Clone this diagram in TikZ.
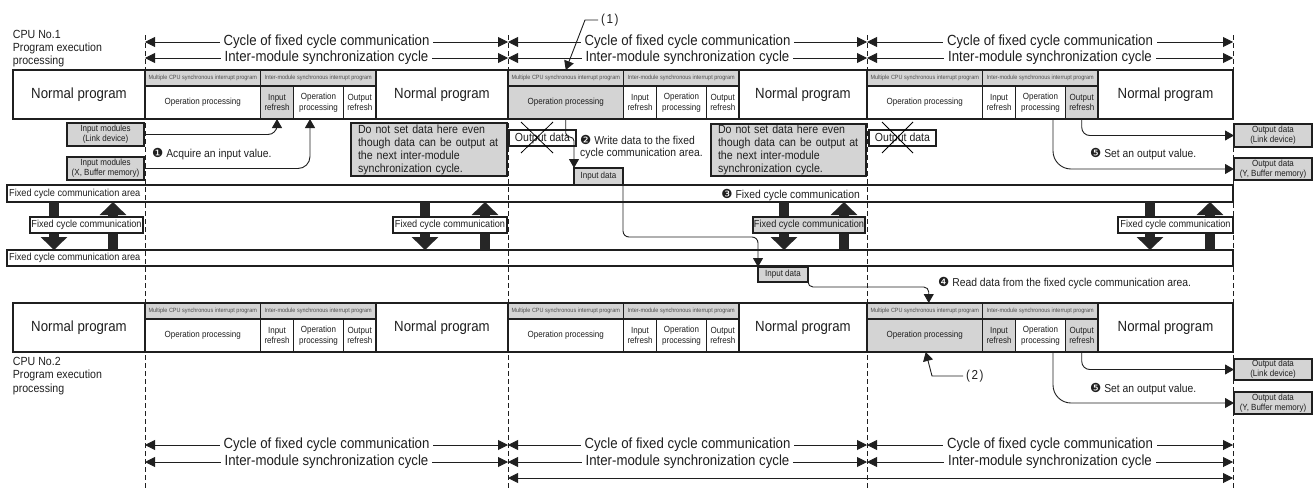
\documentclass[tikz,border=0pt]{standalone}
\usepackage{fontspec}
\setmainfont[FakeStretch=0.9]{Liberation Sans}
\newfontfamily\symf{DejaVu Sans}
\usetikzlibrary{arrows.meta}
\definecolor{hdr}{gray}{0.83}
\definecolor{ink}{gray}{0.12}
\newcommand\myBig{\fontsize{14.7}{16}\selectfont}
\newcommand\myAnn{\fontsize{11.5}{13}\selectfont}
\newcommand\myLab{\fontsize{13}{14}\selectfont}
\newcommand\myCpu{\fontsize{11.8}{13.3}\selectfont}
\newcommand\myNote{\fontsize{11.8}{13}\selectfont}
\newcommand\myOut{\fontsize{11.7}{13}\selectfont}
\newcommand\myMid{\fontsize{8.9}{10.7}\selectfont}
\newcommand\mySmall{\fontsize{8.9}{10}\selectfont}
\newcommand\myHdr{\fontsize{6.1}{7}\selectfont}
\newcommand\myArea{\fontsize{10.2}{12}\selectfont}
\newcommand\cn[1]{{\symf\fontsize{12.5}{12.5}\selectfont #1}}
\newcommand\cellbox[7]{\node[cell,#6,minimum width={(#4)-(#2)},minimum height={(#5)-(#3)}] (#1) at ({((#2)+(#4))/2},{((#3)+(#5))/2}) {#7};}
\newcommand\cyclerow[8]{%
  \cellbox{#1ha}{#2}{#4}{#2+115.5}{#4+16}{fill=hdr,font=\myHdr,text=black!70}{Multiple CPU synchronous interrupt program}
  \cellbox{#1hb}{#2+115.5}{#4}{#2+231}{#4+16}{fill=hdr,font=\myHdr,text=black!70}{Inter-module synchronous interrupt program}
  \cellbox{#1op}{#2}{#4+16}{#2+115.5}{#4+49}{fill=#5,font=\myMid}{Operation processing}
  \cellbox{#1in}{#2+115.5}{#4+16}{#2+148.5}{#4+49}{fill=#6,font=\myMid}{Input\\refresh}
  \cellbox{#1pr}{#2+148.5}{#4+16}{#2+198.5}{#4+49}{fill=#7,font=\myMid}{Operation\\processing}
  \cellbox{#1out}{#2+198.5}{#4+16}{#2+231}{#4+49}{fill=#8,font=\myMid}{Output\\refresh}
  \cellbox{#1nm}{#2+231}{#4}{#3}{#4+49}{fill=white,font=\myBig}{Normal program}
}
\begin{document}
\begin{tikzpicture}[x=1pt,y=-1pt,
  every node/.append style={text=ink},
  cell/.style={draw=ink,line width=1.1pt,inner sep=0pt,outer sep=0pt,align=center},
  dashline/.style={draw=ink,line width=0.9pt,dash pattern=on 5pt off 3pt},
  cyc/.style={draw=ink,line width=0.9pt,{Triangle[length=10pt,width=10pt]}-{Triangle[length=10pt,width=10pt]}},
  conn/.style={draw=ink,line width=0.9pt,-{Triangle[length=9pt,width=10pt]}},
  blk/.style={draw=black!85,line width=10pt,-{Triangle[length=13pt,width=26pt]}},
  cyclab/.style={fill=white,inner xsep=4pt,inner ysep=1pt,font=\myBig},
  txt/.style={inner sep=0pt}]
\useasboundingbox (0,0) rectangle (1314,488);
% dashed cycle boundaries
\coordinate (v0) at (145,35); \coordinate (w0) at (145,488);
\coordinate (v1) at (508,35); \coordinate (w1) at (508,488);
\coordinate (v2) at (867,35); \coordinate (w2) at (867,488);
\coordinate (v3) at (1233,35); \coordinate (w3) at (1233,488);
\draw[dashline] (v0) -- (w0);
\draw[dashline] (v1) -- (w1);
\draw[dashline] (v2) -- (w2);
\draw[dashline] (v3) -- (w3);
% y levels
\coordinate (yc1) at (0,42); \coordinate (yc2) at (0,58);
\coordinate (yc3) at (0,445); \coordinate (yc4) at (0,462); \coordinate (yc5) at (0,478);
% top cycle arrows
\draw[cyc] (v0|-yc1) -- node[cyclab] (t11) {Cycle of fixed cycle communication} (v1|-yc1);
\draw[cyc] (v1|-yc1) -- node[cyclab] (t12) {Cycle of fixed cycle communication} (v2|-yc1);
\draw[cyc] (v2|-yc1) -- node[cyclab] (t13) {Cycle of fixed cycle communication} (v3|-yc1);
\draw[cyc] (v0|-yc2) -- node[cyclab] (t21) {Inter-module synchronization cycle} (v1|-yc2);
\draw[cyc] (v1|-yc2) -- node[cyclab] (t22) {Inter-module synchronization cycle} (v2|-yc2);
\draw[cyc] (v2|-yc2) -- node[cyclab] (t23) {Inter-module synchronization cycle} (v3|-yc2);
% bottom cycle arrows
\draw[cyc] (v0|-yc3) -- node[cyclab] (b11) {Cycle of fixed cycle communication} (v1|-yc3);
\draw[cyc] (v1|-yc3) -- node[cyclab] (b12) {Cycle of fixed cycle communication} (v2|-yc3);
\draw[cyc] (v2|-yc3) -- node[cyclab] (b13) {Cycle of fixed cycle communication} (v3|-yc3);
\draw[cyc] (v0|-yc4) -- node[cyclab] (b21) {Inter-module synchronization cycle} (v1|-yc4);
\draw[cyc] (v1|-yc4) -- node[cyclab] (b22) {Inter-module synchronization cycle} (v2|-yc4);
\draw[cyc] (v2|-yc4) -- node[cyclab] (b23) {Inter-module synchronization cycle} (v3|-yc4);
\draw[cyc] (v1|-yc5) -- (v3|-yc5);
% CPU labels
\node[txt,anchor=base west,font=\myCpu] (cpu1a) at (12.7,38) {CPU No.1};
\node[txt,anchor=base west,font=\myCpu] (cpu1b) at (12.7,51.3) {Program execution};
\node[txt,anchor=base west,font=\myCpu] (cpu1c) at (12.7,64.6) {processing};
\node[txt,anchor=base west,font=\myCpu] (cpu2a) at (12.7,365.5) {CPU No.2};
\node[txt,anchor=base west,font=\myCpu] (cpu2b) at (12.7,378.8) {Program execution};
\node[txt,anchor=base west,font=\myCpu] (cpu2c) at (12.7,392.1) {processing};
% CPU1 row
\cellbox{a0}{13}{70}{145}{119}{fill=white,font=\myBig}{Normal program}
\cyclerow{a1}{145}{508}{70}{white}{hdr}{white}{white}
\cyclerow{a2}{508}{867}{70}{hdr}{white}{white}{white}
\cyclerow{a3}{867}{1233}{70}{white}{white}{white}{hdr}
% CPU2 row
\cellbox{b0}{13}{303}{145}{352}{fill=white,font=\myBig}{Normal program}
\cyclerow{b1}{145}{508}{303}{white}{white}{white}{white}
\cyclerow{b2}{508}{867}{303}{white}{white}{white}{white}
\cyclerow{b3}{867}{1233}{303}{hdr}{hdr}{white}{hdr}
% (1) and (2)
\node[txt,anchor=west,font=\myLab] (L1) at (601,20) {(\kern1.5pt1\kern1.5pt)};
\draw[conn] ([xshift=-3]L1.west) -- ++(-13,0) -- (a2ha.north);
\node[txt,anchor=west,font=\myLab] (L2) at (966,376) {(\kern1.5pt2\kern1.5pt)};
\draw[conn] ([xshift=-3]L2.west) -- ++(-31,0) -- ([xshift=1]b3op.south);
% input modules
\cellbox{im1}{67}{123}{144}{146}{fill=hdr,font=\mySmall}{Input modules\\(Link device)}
\cellbox{im2}{67}{157}{144}{180}{fill=hdr,font=\mySmall}{Input modules\\(X, Buffer memory)}
\draw[conn,rounded corners=9] (im1.east) -| (a1in.south);
\draw[conn,rounded corners=12] (im2.east) -| ([xshift=16.5]a1pr.south west);
\node[txt,anchor=base west,font=\myAnn] (s1) at (152,157) {\cn{❶} Acquire an input value.};
% do-not-set notes
\node[cell,fill=hdr,font=\myNote,align=left,text width=142,inner xsep=7,minimum width=156,minimum height=53,anchor=north west] (dn1) at (351,123) {Do not set data here even\\though data can be output at\\the next inter-module\\synchronization cycle.};
\node[cell,fill=hdr,font=\myNote,align=left,text width=141,inner xsep=7,minimum width=155,minimum height=52,anchor=north west] (dn2) at (711,124) {Do not set data here even\\though data can be output at\\the next inter-module\\synchronization cycle.};
% crossed output data
\cellbox{co2}{509}{130}{576}{146}{fill=white,font=\myOut}{Output data}
\draw[line width=0.8pt] ([shift={(12,-8)}]co2.north west) -- ([shift={(44,7)}]co2.south west);
\draw[line width=0.8pt] ([shift={(44,-8)}]co2.north west) -- ([shift={(12,7)}]co2.south west);
\cellbox{co3}{869}{130}{936}{146}{fill=white,font=\myOut}{Output data}
\draw[line width=0.8pt] ([shift={(13,-8)}]co3.north west) -- ([shift={(44,7)}]co3.south west);
\draw[line width=0.8pt] ([shift={(44,-8)}]co3.north west) -- ([shift={(13,7)}]co3.south west);
% fixed cycle communication areas
\cellbox{fa1}{7}{185}{1233}{202}{}{}
\cellbox{fa2}{7}{250}{1233}{266}{}{}
\node[txt,anchor=west,font=\myArea] (fa1t) at ([xshift=2]fa1.west) {Fixed cycle communication area};
\node[txt,anchor=west,font=\myArea] (fa2t) at ([xshift=2]fa2.west) {Fixed cycle communication area};
% block arrows
\coordinate (k1) at (54,0); \coordinate (k2) at (113,0);
\coordinate (k3) at (425,0); \coordinate (k4) at (485,0);
\coordinate (k5) at (784,0); \coordinate (k6) at (844,0);
\coordinate (k7) at (1150,0); \coordinate (k8) at (1210,0);
\draw[blk] (k1|-fa1.south) -- (k1|-fa2.north);
\draw[blk] (k2|-fa2.north) -- (k2|-fa1.south);
\draw[blk] (k3|-fa1.south) -- (k3|-fa2.north);
\draw[blk] (k4|-fa2.north) -- (k4|-fa1.south);
\draw[blk] (k5|-fa1.south) -- (k5|-fa2.north);
\draw[blk] (k6|-fa2.north) -- (k6|-fa1.south);
\draw[blk] (k7|-fa1.south) -- (k7|-fa2.north);
\draw[blk] (k8|-fa2.north) -- (k8|-fa1.south);
\cellbox{fl1}{30}{217}{143}{233}{fill=white,font=\myArea}{Fixed cycle communication}
\cellbox{fl2}{393}{217}{507}{233}{fill=white,font=\myArea}{Fixed cycle communication}
\cellbox{fl3}{753}{217}{865}{233}{fill=hdr,font=\myArea}{Fixed cycle communication}
\cellbox{fl4}{1118}{217}{1233}{233}{fill=white,font=\myArea}{Fixed cycle communication}
% data path
\cellbox{id1}{574}{168}{623}{185}{fill=hdr,font=\mySmall}{Input data}
\cellbox{id2}{758}{267}{808}{282}{fill=hdr,font=\mySmall}{Input data}
\draw[conn,rounded corners=4] (a2op.south) -- ++(0,18) -| (id1.north west);
\draw[conn,rounded corners=6] (id1.south east) -- ++(0,52) -| (id2.north west);
\draw[conn,rounded corners=5] (id2.south east) -- ++(0,5) -| ([xshift=4]b3ha.north);
\node[txt,anchor=base west,font=\myAnn] (s2a) at (580,144) {\cn{❷} Write data to the fixed};
\node[txt,anchor=base west,font=\myAnn] (s2b) at (580,156) {cycle communication area.};
\node[txt,anchor=base east,font=\myAnn] (s3) at (860,198) {\cn{❸} Fixed cycle communication};
\node[txt,anchor=base west,font=\myAnn] (s4) at (938,286) {\cn{❹} Read data from the fixed cycle communication area.};
% output data
\cellbox{o1}{1234}{124}{1312}{147}{fill=hdr,font=\mySmall}{Output data\\(Link device)}
\cellbox{o2}{1234}{158}{1312}{180}{fill=hdr,font=\mySmall}{Output data\\(Y, Buffer memory)}
\cellbox{o3}{1234}{359}{1312}{380}{fill=hdr,font=\mySmall}{Output data\\(Link device)}
\cellbox{o4}{1234}{392}{1312}{414}{fill=hdr,font=\mySmall}{Output data\\(Y, Buffer memory)}
\draw[conn,rounded corners=8] (a3out.south) |- (o1.west);
\draw[conn,rounded corners=18] ([xshift=37.5]a3pr.south west) |- (o2.west);
\draw[conn,rounded corners=8] (b3out.south) |- (o3.west);
\draw[conn,rounded corners=18] ([xshift=37.5]b3pr.south west) |- (o4.west);
\node[txt,anchor=base west,font=\myAnn] (s5a) at (1090,157) {\cn{❺} Set an output value.};
\node[txt,anchor=base west,font=\myAnn] (s5b) at (1090,392) {\cn{❺} Set an output value.};
\end{tikzpicture}
\end{document}
